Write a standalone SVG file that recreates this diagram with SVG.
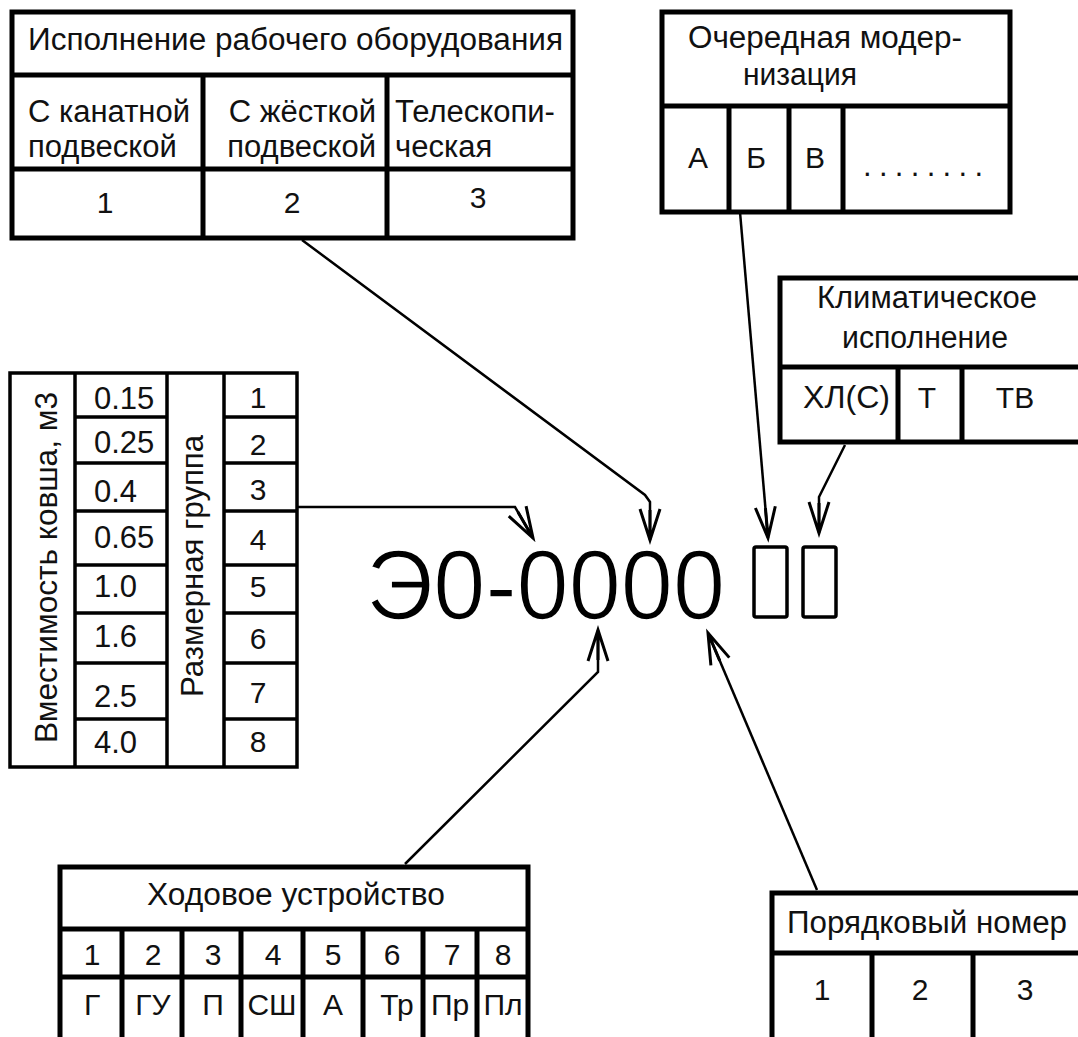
<svg xmlns="http://www.w3.org/2000/svg" width="1078" height="1037" viewBox="0 0 1078 1037">
<style>
  .t{font-family:"Liberation Sans",Arial,sans-serif;font-size:31px;fill:#111}
  .n{font-family:"Liberation Sans",Arial,sans-serif;font-size:30px;fill:#111;text-anchor:middle}
  .m{font-family:"Liberation Sans",Arial,sans-serif;font-size:99px;fill:#000;stroke:#fff;stroke-width:1.6}
  .b{fill:none;stroke:#000;stroke-width:5}
  .b3{fill:none;stroke:#000;stroke-width:3.5}
  .c{fill:none;stroke:#000;stroke-width:2.5;marker-end:url(#ah)}
</style>
<defs>
  <marker id="ah" markerUnits="userSpaceOnUse" markerWidth="40" markerHeight="30" viewBox="-34 -15 40 30" refX="0" refY="0" orient="auto">
    <path d="M-31,-10 L0,0 L-31,10 M-30,0 L0,0" fill="none" stroke="#000" stroke-width="3"/>
  </marker>
</defs>
<rect width="1078" height="1037" fill="#fff"/>

<g id="equipment">
  <rect class="b" x="12" y="12" width="561" height="226"/>
  <path class="b" d="M12,75 H573 M12,169 H573 M203,75 V238 M387,75 V238"/>
  <text class="t" x="28" y="50" textLength="535" lengthAdjust="spacingAndGlyphs">Исполнение рабочего оборудования</text>
  <text class="t" x="28" y="122">С канатной</text>
  <text class="t" x="28" y="157">подвеской</text>
  <text class="t" x="376" y="122" text-anchor="end">С жёсткой</text>
  <text class="t" x="376" y="157" text-anchor="end">подвеской</text>
  <text class="t" x="395" y="122">Телескопи-</text>
  <text class="t" x="395" y="157">ческая</text>
  <text class="n" x="105" y="213">1</text>
  <text class="n" x="292" y="213">2</text>
  <text class="n" x="478" y="208">3</text>
</g>

<g id="modernization">
  <rect class="b" x="662" y="12" width="348" height="200"/>
  <path class="b" d="M662,106 H1010 M729,106 V212 M789,106 V212 M843,106 V212"/>
  <text class="t" x="688" y="48" textLength="274" lengthAdjust="spacingAndGlyphs">Очередная модер-</text>
  <text class="t" x="743" y="85" textLength="114" lengthAdjust="spacingAndGlyphs">низация</text>
  <text class="n" x="698" y="168">А</text>
  <text class="n" x="756" y="168">Б</text>
  <text class="n" x="815" y="168">В</text>
  <text class="t" x="863" y="176" textLength="120" lengthAdjust="spacing">........</text>
</g>

<g id="climate">
  <rect class="b" x="780" y="278" width="310" height="164"/>
  <path class="b" d="M780,367 H1090 M898,367 V442 M962,367 V442"/>
  <text class="t" x="817" y="308" textLength="220" lengthAdjust="spacingAndGlyphs">Климатическое</text>
  <text class="t" x="842" y="348" textLength="166" lengthAdjust="spacingAndGlyphs">исполнение</text>
  <text class="t" x="803" y="408" textLength="87" lengthAdjust="spacingAndGlyphs">ХЛ(С)</text>
  <text class="n" x="927" y="408">Т</text>
  <text class="n" x="1015" y="408">ТВ</text>
</g>

<g id="size-group">
  <rect class="b3" x="10" y="373" width="287" height="394"/>
  <path class="b3" d="M75,373 V767 M167,373 V767 M224,373 V767"/>
  <path class="b3" d="M75,417 H167 M75,463 H167 M75,511 H167 M75,565 H167 M75,613 H167 M75,663 H167 M75,719 H167"/>
  <path class="b3" d="M224,417 H297 M224,463 H297 M224,511 H297 M224,565 H297 M224,613 H297 M224,663 H297 M224,719 H297"/>
  <text class="t" transform="translate(57,743) rotate(-90)" textLength="351" lengthAdjust="spacingAndGlyphs">Вместимость ковша, м3</text>
  <text class="t" transform="translate(203,697) rotate(-90)" textLength="262" lengthAdjust="spacingAndGlyphs">Размерная группа</text>
  <text class="t" x="94" y="409">0.15</text>
  <text class="t" x="94" y="453">0.25</text>
  <text class="t" x="94" y="502">0.4</text>
  <text class="t" x="94" y="548">0.65</text>
  <text class="t" x="94" y="597">1.0</text>
  <text class="t" x="94" y="647">1.6</text>
  <text class="t" x="94" y="707">2.5</text>
  <text class="t" x="94" y="753">4.0</text>
  <text class="n" x="258" y="408">1</text>
  <text class="n" x="258" y="455">2</text>
  <text class="n" x="258" y="500">3</text>
  <text class="n" x="258" y="550">4</text>
  <text class="n" x="258" y="597">5</text>
  <text class="n" x="258" y="649">6</text>
  <text class="n" x="258" y="703">7</text>
  <text class="n" x="258" y="752">8</text>
</g>

<g id="code">
  <text class="m" x="366" y="619" textLength="359" lengthAdjust="spacingAndGlyphs">Э0-0000</text>
  <rect x="754" y="547" width="33" height="70" fill="none" stroke="#000" stroke-width="3.5" rx="2"/>
  <rect x="803" y="547" width="33" height="70" fill="none" stroke="#000" stroke-width="3.5" rx="2"/>
</g>

<g id="undercarriage">
  <rect class="b" x="60" y="867" width="468" height="200"/>
  <path class="b" d="M60,929 H528 M60,977 H528 M122,929 V1040 M182,929 V1040 M241,929 V1040 M303,929 V1040 M363,929 V1040 M423,929 V1040 M477,929 V1040"/>
  <text class="t" x="147" y="905" textLength="298" lengthAdjust="spacingAndGlyphs">Ходовое устройство</text>
  <text class="n" x="92" y="965">1</text>
  <text class="n" x="153" y="965">2</text>
  <text class="n" x="213" y="965">3</text>
  <text class="n" x="273" y="965">4</text>
  <text class="n" x="333" y="965">5</text>
  <text class="n" x="392" y="965">6</text>
  <text class="n" x="452" y="965">7</text>
  <text class="n" x="503" y="965">8</text>
  <text class="n" x="92" y="1015">Г</text>
  <text class="n" x="153" y="1015">ГУ</text>
  <text class="n" x="213" y="1015">П</text>
  <text class="n" x="272" y="1015">СШ</text>
  <text class="n" x="333" y="1015">А</text>
  <text class="n" x="397" y="1015">Тр</text>
  <text class="n" x="450" y="1015">Пр</text>
  <text class="n" x="503" y="1015">Пл</text>
</g>

<g id="serial">
  <rect class="b" x="772" y="893" width="330" height="200"/>
  <path class="b" d="M772,953 H1102 M872,953 V1040 M973,953 V1040"/>
  <text class="t" x="787" y="933" textLength="280" lengthAdjust="spacingAndGlyphs">Порядковый номер</text>
  <text class="n" x="822" y="1000">1</text>
  <text class="n" x="920" y="1000">2</text>
  <text class="n" x="1025" y="1000">3</text>
</g>

<g id="connectors">
  <polyline class="c" points="302,240 645,495 650,502 650,540"/>
  <polyline class="c" points="297,507 515,507 533,538"/>
  <polyline class="c" points="740,212 768,538"/>
  <polyline class="c" points="845,445 819,497 819,533"/>
  <polyline class="c" points="405,864 598,672 598,630"/>
  <polyline class="c" points="817,890 708,633"/>
</g>
</svg>
